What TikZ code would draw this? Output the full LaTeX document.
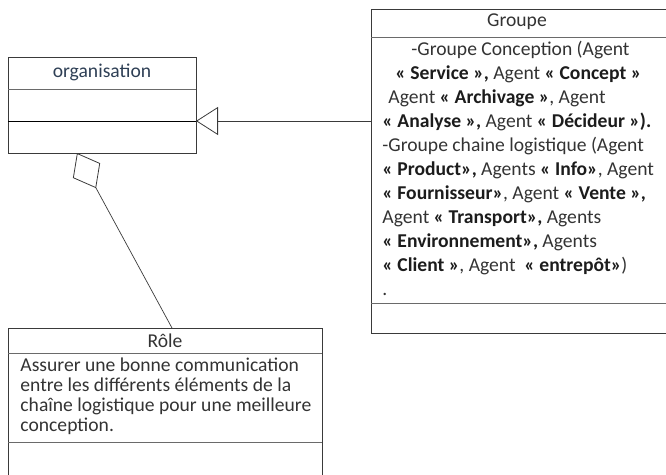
\documentclass[tikz,border=0pt]{standalone}
\usepackage{fontspec}
\setmainfont{Carlito}
\usetikzlibrary{arrows.meta}
\definecolor{txt}{HTML}{333333}
\definecolor{bld}{HTML}{1C1C1C}
\definecolor{ttl}{HTML}{2E3F55}
\definecolor{edge}{HTML}{3A3A3A}
\definecolor{sep}{HTML}{6A6A6A}
\newcommand{\bq}[1]{{\bfseries\color{bld}#1}}
\begin{document}
\begin{tikzpicture}[x=1pt,y=-1pt,
  line width=0.9pt,
  box/.style={draw=edge,fill=none,inner sep=0pt,anchor=north west},
  ln/.style={anchor=base west,inner sep=0pt,text=txt,font=\fontsize{19.6}{20}\selectfont},
  hd/.style={inner sep=0pt,text=txt,font=\fontsize{19.6}{20}\selectfont},
  rule/.style={draw=sep,line width=0.9pt},
  assoc/.style={draw=edge,line width=0.7pt},
]
\useasboundingbox (0,0) rectangle (666,474);
\clip (0,0) rectangle (666,474);

% class organisation
\node[box,minimum width=188pt,minimum height=96pt] (org) at (8,57) {};
\node[hd,text=ttl] (orgname) at (102,72) {organisation};
\draw[rule] (8,89) -- (196,89);
\draw[draw=black] (8,121) coordinate (orgmidw) -- (196,121) coordinate (orgmid);

% class Groupe
\node[box,minimum width=296pt,minimum height=324pt] (grp) at (371,9) {};
\node[hd] (grpname) at (517,22) {Groupe};
\draw[rule] (371,37) -- (667,37);
\draw[rule] (371,303) -- (667,303);

\node[ln] (g1)  at (411,55)  {-Groupe Conception (Agent};
\node[ln] (g2)  at (395,79)  {\bq{« Service »,} Agent \bq{« Concept »}};
\node[ln] (g3)  at (388,103) {Agent \bq{« Archivage »}, Agent};
\node[ln] (g4)  at (382,127) {\bq{« Analyse »,} Agent \bq{« Décideur »).}};
\node[ln] (g5)  at (382,151) {-Groupe chaine logistique (Agent};
\node[ln] (g6)  at (382,175) {\bq{« Product»,} Agents \bq{« Info»}, Agent};
\node[ln] (g7)  at (382,199) {\bq{« Fournisseur»}, Agent \bq{« Vente »,}};
\node[ln] (g8)  at (382,223) {Agent \bq{« Transport»,} Agents};
\node[ln] (g9)  at (382,247) {\bq{« Environnement»,} Agents};
\node[ln] (g10) at (382,271) {\bq{« Client »}, Agent \ \bq{« entrepôt»})};
\node[ln] (g11) at (382,295) {.};

% class Rôle
\node[box,minimum width=314pt,minimum height=160pt] (role) at (8,328) {};
\node[hd] (rolename) at (165,341) {Rôle};
\draw[rule] (8,353) -- (322,353);
\draw[rule] (8,442) -- (322,442);
\node[ln] (r1) at (20,371) {Assurer une bonne communication};
\node[ln] (r2) at (20,391) {entre les différents éléments de la};
\node[ln] (r3) at (20,411) {chaîne logistique pour une meilleure};
\node[ln] (r4) at (20,431) {conception.};

% generalization Groupe -> organisation
\draw[assoc,-{Triangle[open,length=22pt,width=28pt,line width=0.8pt]}]
  (grp.west |- orgmid) -- (orgmid);

% aggregation Rôle -> organisation
\coordinate (roletop) at (172,328);
\coordinate (orgagg) at (77,153);
\draw[assoc,-{Diamond[open,length=40pt,width=31pt,line width=0.8pt]}]
  (roletop) -- (orgagg);
\end{tikzpicture}
\end{document}
